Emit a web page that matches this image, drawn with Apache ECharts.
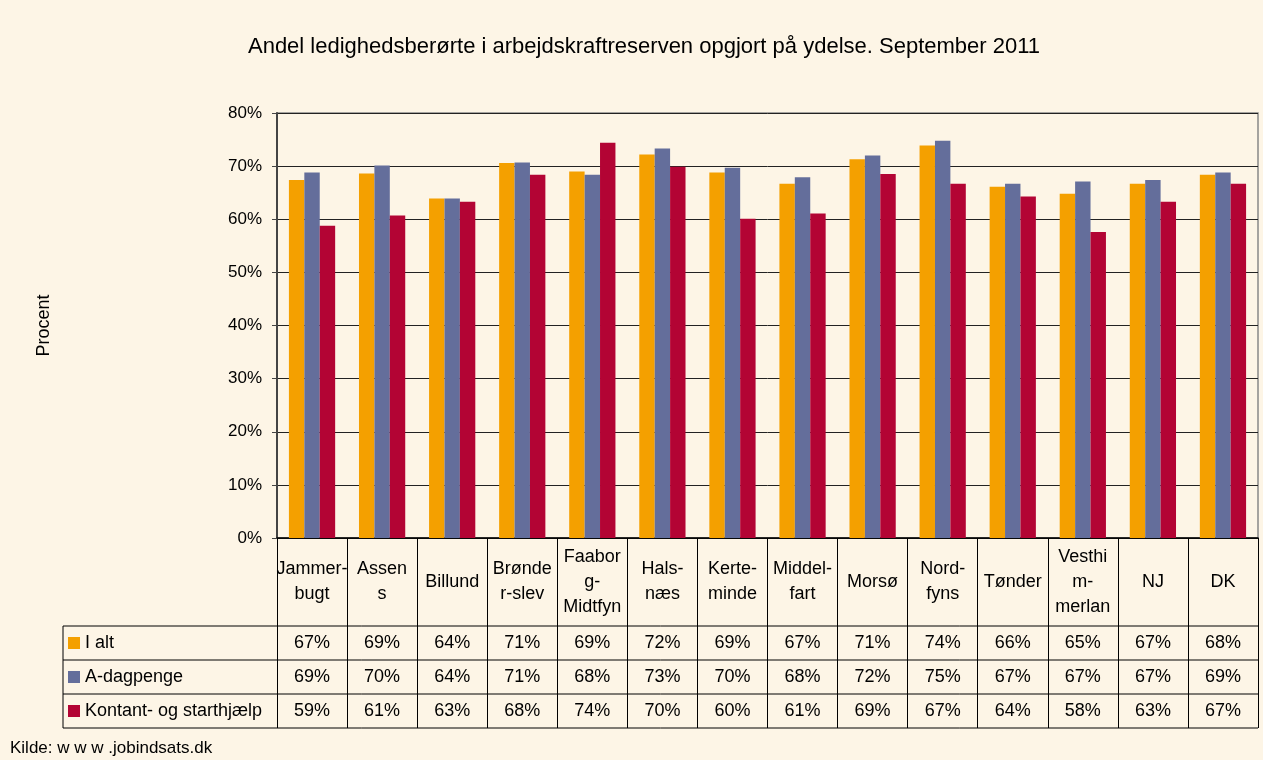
<!DOCTYPE html>
<html>
<head>
<meta charset="utf-8">
<script src="https://cdn.jsdelivr.net/npm/echarts@6/dist/echarts.min.js"></script>
<style>
  html, body { margin: 0; padding: 0; background: #FDF5E6; }
  #chart { width: 1263px; height: 760px; }
</style>
</head>
<body>
<div id="chart"></div>
<script>
// kategorier (linjeskift som i originalen)
var categories = ['Jammer-\nbugt', 'Assen\ns', 'Billund', 'Brønde\nr-slev', 'Faabor\ng-\nMidtfyn', 'Hals-\nnæs',
  'Kerte-\nminde', 'Middel-\nfart', 'Morsø', 'Nord-\nfyns', 'Tønder', 'Vesthi\nm-\nmerlan', 'NJ', 'DK'];
var seriesNames = ['I alt', 'A-dagpenge', 'Kontant- og starthjælp'];
// andele i procent
var iAlt      = [67.4, 68.6, 63.9, 70.6, 69.0, 72.2, 68.8, 66.7, 71.3, 73.9, 66.1, 64.8, 66.7, 68.4];
var aDagpenge = [68.8, 70.1, 63.9, 70.7, 68.4, 73.3, 69.7, 67.9, 72.0, 74.8, 66.7, 67.1, 67.4, 68.8];
var kontant   = [58.8, 60.7, 63.3, 68.4, 74.4, 69.9, 60.1, 61.1, 68.5, 66.7, 64.3, 57.6, 63.3, 66.7];
var colors = ['#F4A000', '#646E9B', '#B30434'];

var FONT = '"Liberation Sans", Arial, sans-serif';
var GRID = { left: 277, right: 5, top: 113, bottom: 222 };
var HEADER_H = 88;   // rækken med kategorinavne
var ROW_H = 34;      // tabelrækker
var TABLE_LEFT = 63;

var chart = echarts.init(document.getElementById('chart'));
var allData = [iAlt, aDagpenge, kontant];

chart.setOption({
  backgroundColor: '#FDF5E6',
  textStyle: { fontFamily: FONT },
  title: [{
    text: 'Andel ledighedsberørte i arbejdskraftreserven opgjort på ydelse. September 2011',
    left: 639, top: 31, textAlign: 'center',
    textStyle: { fontSize: 22, fontWeight: 'normal', color: '#000', fontFamily: FONT }
  }, {
    text: 'Kilde: w w w .jobindsats.dk',
    left: 5, top: 735,
    textStyle: { fontSize: 17, fontWeight: 'normal', color: '#000', fontFamily: FONT }
  }],
  legend: {
    orient: 'vertical',
    left: 68, top: 634, padding: 0,
    itemWidth: 12, itemHeight: 12, itemGap: 16,
    icon: 'rect',
    data: seriesNames,
    textStyle: { fontSize: 18, color: '#000', lineHeight: 18, fontFamily: FONT }
  },
  grid: {
    left: GRID.left, right: GRID.right, top: GRID.top, bottom: GRID.bottom,
    show: true, borderColor: '#888', borderWidth: 1.5, backgroundColor: 'transparent'
  },
  xAxis: {
    type: 'category',
    data: categories,
    axisLine: { lineStyle: { color: '#000', width: 1.5 } },
    // lange ticks giver tabellens lodrette linjer
    axisTick: { show: true, interval: 0, length: HEADER_H + 3 * ROW_H, lineStyle: { color: '#000', width: 1 } },
    axisLabel: {
      interval: 0, color: '#000', fontSize: 18, lineHeight: 25,
      verticalAlign: 'middle', margin: HEADER_H / 2, fontFamily: FONT
    }
  },
  yAxis: {
    type: 'value',
    min: 0, max: 80, interval: 10,
    name: 'Procent',
    nameLocation: 'middle',
    nameGap: 224,
    nameTextStyle: { fontSize: 18, color: '#000', fontFamily: FONT },
    axisLine: { show: true, lineStyle: { color: '#444', width: 2 } },
    axisTick: { show: true, length: 5, lineStyle: { color: '#444' } },
    axisLabel: { formatter: '{value}%', fontSize: 17, color: '#000', margin: 15, fontFamily: FONT },
    splitLine: { lineStyle: { color: '#222', width: 1 } }
  },
  series: allData.map(function (d, k) {
    return {
      name: seriesNames[k],
      type: 'bar',
      data: d,
      barGap: '0%',
      barCategoryGap: '34%',
      itemStyle: { color: colors[k] },
      animation: false
    };
  })
});

// tabel med afrundede værdier under diagrammet
function drawTable() {
  var h = chart.getHeight();
  var w = chart.getWidth();
  var top = h - GRID.bottom + HEADER_H;
  var right = w - GRID.right;
  var els = [];
  for (var r = 0; r <= 3; r++) {
    var y = top + r * ROW_H;
    els.push({ type: 'line', shape: { x1: TABLE_LEFT, y1: y, x2: right, y2: y }, style: { stroke: '#000', lineWidth: 1 } });
  }
  els.push({ type: 'line', shape: { x1: TABLE_LEFT, y1: top, x2: TABLE_LEFT, y2: top + 3 * ROW_H }, style: { stroke: '#000', lineWidth: 1 } });
  allData.forEach(function (d, k) {
    d.forEach(function (v, i) {
      var x = chart.convertToPixel({ xAxisIndex: 0 }, i);
      els.push({
        type: 'text', x: x, y: top + ROW_H * (k + 0.5),
        style: { text: Math.round(v) + '%', fontSize: 18, fontFamily: FONT, fill: '#000', align: 'center', verticalAlign: 'middle' }
      });
    });
  });
  chart.setOption({ graphic: els });
}
drawTable();
</script>
</body>
</html>
